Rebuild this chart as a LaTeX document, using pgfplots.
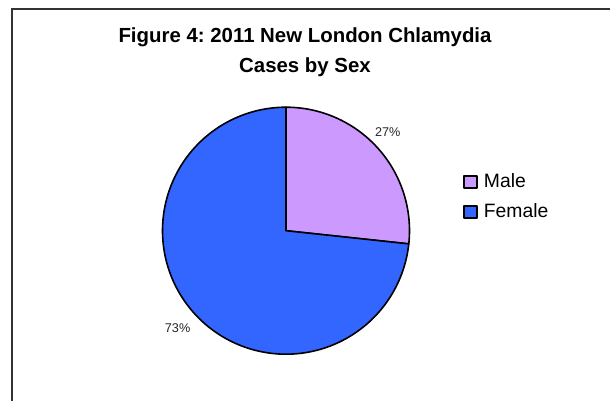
\documentclass[border=0pt]{standalone}
\usepackage{fontspec}
\setmainfont{Liberation Sans}
\usepackage{pgfplots}
\usepackage{pgfplotstable}
\pgfplotsset{compat=1.18}
\frenchspacing

\definecolor{malec}{HTML}{CC99FF}
\definecolor{femalec}{HTML}{3366FF}
\definecolor{framec}{HTML}{333333}

% share of cases, per cent
\pgfplotstableread{
sex    share
Male   26.7
Female 73.3
}\piedata

\begin{document}
\begin{tikzpicture}[x=0.75pt,y=0.75pt]
\useasboundingbox (0,0) rectangle (610,400);

% chart frame (cut off right and bottom in the original)
\draw[framec, line width=1.5pt] (12,-5) -- (12,390.7) -- (615,390.7);

\node[anchor=base, font=\bfseries\fontsize{15.3}{18}\selectfont] at (305,357.3) {Figure 4: 2011 New London Chlamydia};
\node[anchor=base, font=\bfseries\fontsize{15.3}{18}\selectfont] at (305,327.3) {Cases by Sex};

\coordinate (pc) at (286,169.3);

\pgfplotstablegetelem{0}{share}\of\piedata \let\male\pgfplotsretval
\pgfplotstablegetelem{1}{share}\of\piedata \let\female\pgfplotsretval
\pgfmathsetmacro{\aA}{90}
\pgfmathsetmacro{\aB}{90-3.6*\male}
\pgfmathsetmacro{\aC}{\aB-3.6*\female}
\pgfmathsetmacro{\mA}{(\aA+\aB)/2}
\pgfmathsetmacro{\mB}{(\aB+\aC)/2}

\begin{axis}[
    at={(pc)}, anchor=center,
    width=185.25pt, height=185.25pt,
    scale only axis,
    hide axis,
    clip=false,
    xmin=-1, xmax=1, ymin=-1, ymax=1,
    /pgf/number format/assume math mode=true,
    legend cell align=left,
    legend image code/.code={
        \draw[#1, line width=1.5pt] (0pt,-4.7pt) rectangle (9.4pt,4.7pt);
    },
    legend style={
        draw=none, fill=none,
        at={(1.217,0.637)}, anchor=west,
        inner sep=0pt,
        font=\fontsize{14.5}{16}\selectfont,
        row sep=8.5pt,
        nodes={inner sep=1pt},
        /tikz/every odd column/.append style={column sep=3.5pt},
    },
]
\addplot[draw=black, line width=1.2pt, line join=round, fill=malec,
    domain=\aA:\aB, samples=80, variable=\t]
    ({cos(t)},{sin(t)}) -- (0,0) -- cycle;
\addlegendentry{Male}
\addplot[draw=black, line width=1.2pt, line join=round, fill=femalec,
    domain=\aB:\aC, samples=160, variable=\t]
    ({cos(t)},{sin(t)}) -- (0,0) -- cycle;
\addlegendentry{Female}

\node[font=\fontsize{9.5}{11}\selectfont, text=black!85, xshift=-1.5pt, yshift=4pt]
    at (axis cs:{1.13*cos(\mA)},{1.13*sin(\mA)})
    {\pgfmathprintnumber[fixed,precision=0]{\male}\%};
\node[font=\fontsize{9.5}{11}\selectfont, text=black!85]
    at (axis cs:{1.18*cos(\mB)},{1.18*sin(\mB)})
    {\pgfmathprintnumber[fixed,precision=0]{\female}\%};
\end{axis}
\end{tikzpicture}
\end{document}
